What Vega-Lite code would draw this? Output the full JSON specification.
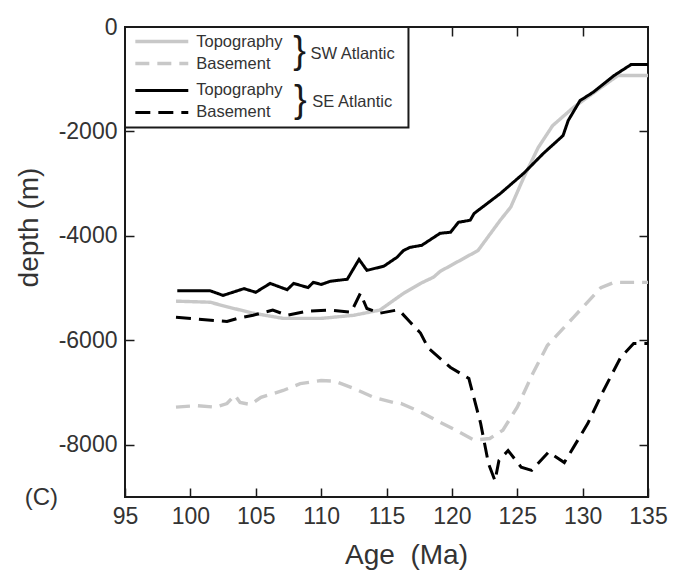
{
  "$schema": "https://vega.github.io/schema/vega-lite/v6.json",
  "width": 523,
  "height": 470,
  "autosize": {"type": "none"},
  "padding": {"left": 125, "top": 27, "right": 28, "bottom": 83},
  "background": "white",
  "config": {
    "view": {"stroke": "#1a1a1a", "strokeWidth": 2},
    "font": "Liberation Sans",
    "axis": {
      "domain": false,
      "grid": false,
      "tickColor": "#1a1a1a",
      "tickWidth": 1.5,
      "tickSize": 9,
      "offset": -9,
      "labelFont": "Liberation Sans",
      "labelFontSize": 23,
      "labelColor": "#333333",
      "labelFlush": false,
      "labelOverlap": false,
      "titleFont": "Liberation Sans",
      "titleFontSize": 28,
      "titleFontWeight": "normal",
      "titleColor": "#333333"
    }
  },
  "datasets": {
    "curves": [
      {"s": "SW Topography", "age": 98.9, "depth": -5250},
      {"s": "SW Topography", "age": 101.5, "depth": -5270},
      {"s": "SW Topography", "age": 103, "depth": -5370},
      {"s": "SW Topography", "age": 104.8, "depth": -5480},
      {"s": "SW Topography", "age": 107.1, "depth": -5580},
      {"s": "SW Topography", "age": 110, "depth": -5580},
      {"s": "SW Topography", "age": 112.5, "depth": -5520},
      {"s": "SW Topography", "age": 114.5, "depth": -5420},
      {"s": "SW Topography", "age": 116.3, "depth": -5100},
      {"s": "SW Topography", "age": 117.6, "depth": -4910},
      {"s": "SW Topography", "age": 118.6, "depth": -4790},
      {"s": "SW Topography", "age": 119.1, "depth": -4680},
      {"s": "SW Topography", "age": 122, "depth": -4280},
      {"s": "SW Topography", "age": 123.7, "depth": -3700},
      {"s": "SW Topography", "age": 124.5, "depth": -3450},
      {"s": "SW Topography", "age": 125.5, "depth": -2880},
      {"s": "SW Topography", "age": 126.6, "depth": -2310},
      {"s": "SW Topography", "age": 127.7, "depth": -1890},
      {"s": "SW Topography", "age": 129.3, "depth": -1540},
      {"s": "SW Topography", "age": 131.4, "depth": -1160},
      {"s": "SW Topography", "age": 132.7, "depth": -930},
      {"s": "SW Topography", "age": 135, "depth": -930},

      {"s": "SW Basement", "age": 98.9, "depth": -7280},
      {"s": "SW Basement", "age": 100.5, "depth": -7250},
      {"s": "SW Basement", "age": 101.9, "depth": -7280},
      {"s": "SW Basement", "age": 102.8, "depth": -7210},
      {"s": "SW Basement", "age": 103.4, "depth": -7050},
      {"s": "SW Basement", "age": 103.8, "depth": -7190},
      {"s": "SW Basement", "age": 104.6, "depth": -7230},
      {"s": "SW Basement", "age": 105.4, "depth": -7090},
      {"s": "SW Basement", "age": 107.1, "depth": -6960},
      {"s": "SW Basement", "age": 108.4, "depth": -6830},
      {"s": "SW Basement", "age": 110, "depth": -6770},
      {"s": "SW Basement", "age": 111, "depth": -6780},
      {"s": "SW Basement", "age": 112.5, "depth": -6920},
      {"s": "SW Basement", "age": 114, "depth": -7090},
      {"s": "SW Basement", "age": 115.5, "depth": -7190},
      {"s": "SW Basement", "age": 116.1, "depth": -7210},
      {"s": "SW Basement", "age": 117.6, "depth": -7370},
      {"s": "SW Basement", "age": 119.1, "depth": -7570},
      {"s": "SW Basement", "age": 120.6, "depth": -7760},
      {"s": "SW Basement", "age": 121.7, "depth": -7910},
      {"s": "SW Basement", "age": 122.9, "depth": -7880},
      {"s": "SW Basement", "age": 123.9, "depth": -7720},
      {"s": "SW Basement", "age": 125, "depth": -7280},
      {"s": "SW Basement", "age": 126.2, "depth": -6630},
      {"s": "SW Basement", "age": 127.3, "depth": -6100},
      {"s": "SW Basement", "age": 129.3, "depth": -5560},
      {"s": "SW Basement", "age": 131.4, "depth": -4990},
      {"s": "SW Basement", "age": 132.4, "depth": -4890},
      {"s": "SW Basement", "age": 135, "depth": -4890},

      {"s": "SE Topography", "age": 99, "depth": -5050},
      {"s": "SE Topography", "age": 101.5, "depth": -5050},
      {"s": "SE Topography", "age": 102.5, "depth": -5140},
      {"s": "SE Topography", "age": 104.1, "depth": -5010},
      {"s": "SE Topography", "age": 105, "depth": -5080},
      {"s": "SE Topography", "age": 106.1, "depth": -4910},
      {"s": "SE Topography", "age": 107.4, "depth": -5030},
      {"s": "SE Topography", "age": 107.9, "depth": -4910},
      {"s": "SE Topography", "age": 109, "depth": -4990},
      {"s": "SE Topography", "age": 109.4, "depth": -4890},
      {"s": "SE Topography", "age": 110, "depth": -4930},
      {"s": "SE Topography", "age": 110.7, "depth": -4870},
      {"s": "SE Topography", "age": 112, "depth": -4830},
      {"s": "SE Topography", "age": 112.9, "depth": -4450},
      {"s": "SE Topography", "age": 113.5, "depth": -4660},
      {"s": "SE Topography", "age": 114.8, "depth": -4580},
      {"s": "SE Topography", "age": 115.8, "depth": -4410},
      {"s": "SE Topography", "age": 116.3, "depth": -4280},
      {"s": "SE Topography", "age": 116.8, "depth": -4220},
      {"s": "SE Topography", "age": 117.7, "depth": -4180},
      {"s": "SE Topography", "age": 119.1, "depth": -3950},
      {"s": "SE Topography", "age": 119.9, "depth": -3930},
      {"s": "SE Topography", "age": 120.5, "depth": -3740},
      {"s": "SE Topography", "age": 121.4, "depth": -3700},
      {"s": "SE Topography", "age": 121.7, "depth": -3570},
      {"s": "SE Topography", "age": 122.7, "depth": -3380},
      {"s": "SE Topography", "age": 123.7, "depth": -3190},
      {"s": "SE Topography", "age": 125.5, "depth": -2800},
      {"s": "SE Topography", "age": 127, "depth": -2420},
      {"s": "SE Topography", "age": 128.5, "depth": -2080},
      {"s": "SE Topography", "age": 128.9, "depth": -1790},
      {"s": "SE Topography", "age": 129.8, "depth": -1410},
      {"s": "SE Topography", "age": 130.8, "depth": -1250},
      {"s": "SE Topography", "age": 132.4, "depth": -930},
      {"s": "SE Topography", "age": 133.7, "depth": -720},
      {"s": "SE Topography", "age": 135, "depth": -720},

      {"s": "SE Basement", "age": 98.9, "depth": -5560},
      {"s": "SE Basement", "age": 102.8, "depth": -5640},
      {"s": "SE Basement", "age": 103.6, "depth": -5580},
      {"s": "SE Basement", "age": 104.8, "depth": -5520},
      {"s": "SE Basement", "age": 106.3, "depth": -5420},
      {"s": "SE Basement", "age": 107.4, "depth": -5520},
      {"s": "SE Basement", "age": 109, "depth": -5440},
      {"s": "SE Basement", "age": 110.7, "depth": -5420},
      {"s": "SE Basement", "age": 112.3, "depth": -5460},
      {"s": "SE Basement", "age": 113, "depth": -5100},
      {"s": "SE Basement", "age": 113.5, "depth": -5390},
      {"s": "SE Basement", "age": 114.5, "depth": -5480},
      {"s": "SE Basement", "age": 115.8, "depth": -5420},
      {"s": "SE Basement", "age": 116.1, "depth": -5460},
      {"s": "SE Basement", "age": 116.8, "depth": -5650},
      {"s": "SE Basement", "age": 117.6, "depth": -5860},
      {"s": "SE Basement", "age": 118.2, "depth": -6150},
      {"s": "SE Basement", "age": 119.9, "depth": -6520},
      {"s": "SE Basement", "age": 121.3, "depth": -6730},
      {"s": "SE Basement", "age": 121.4, "depth": -6830},
      {"s": "SE Basement", "age": 122.2, "depth": -7590},
      {"s": "SE Basement", "age": 122.8, "depth": -8360},
      {"s": "SE Basement", "age": 123.3, "depth": -8690},
      {"s": "SE Basement", "age": 123.6, "depth": -8300},
      {"s": "SE Basement", "age": 124.3, "depth": -8110},
      {"s": "SE Basement", "age": 125.3, "depth": -8430},
      {"s": "SE Basement", "age": 126.1, "depth": -8490},
      {"s": "SE Basement", "age": 127.4, "depth": -8140},
      {"s": "SE Basement", "age": 128.6, "depth": -8340},
      {"s": "SE Basement", "age": 129.3, "depth": -8050},
      {"s": "SE Basement", "age": 130.4, "depth": -7590},
      {"s": "SE Basement", "age": 131.6, "depth": -6960},
      {"s": "SE Basement", "age": 132.9, "depth": -6330},
      {"s": "SE Basement", "age": 133.9, "depth": -6060},
      {"s": "SE Basement", "age": 135, "depth": -6060}
    ],
    "one": [{}]
  },
  "resolve": {"axis": {"x": "independent", "y": "independent"}},
  "layer": [
    {
      "data": {"name": "curves"},
      "transform": [{"filter": "indexof(datum.s, 'SW') == 0"}],
      "mark": {"type": "line", "strokeWidth": 3.4},
      "encoding": {
        "x": {"field": "age", "type": "quantitative", "scale": {"domain": [95, 135], "nice": false, "zero": false},
          "axis": {"orient": "bottom", "values": [95, 100, 105, 110, 115, 120, 125, 130, 135], "title": "Age\u00a0 (Ma)", "labelPadding": 8, "titleX": 281, "titleY": 67, "titleAlign": "center", "titleBaseline": "middle"}},
        "y": {"field": "depth", "type": "quantitative", "scale": {"domain": [-9000, 0], "nice": false, "zero": false},
          "axis": {"orient": "left", "values": [0, -2000, -4000, -6000, -8000], "title": "depth (m)", "labelPadding": 8, "labelExpr": "datum.value == 0 ? '0' : '-' + format(abs(datum.value), 'd')", "titleX": -105, "titleY": 200, "titleAngle": -90, "titleAlign": "center", "titleBaseline": "middle"}},
        "color": {"field": "s", "type": "nominal", "scale": {"domain": ["SW Topography", "SW Basement", "SE Topography", "SE Basement"], "range": ["#c8c8c8", "#c8c8c8", "#000000", "#000000"]}, "legend": null},
        "strokeDash": {"field": "s", "type": "nominal", "scale": {"domain": ["SW Topography", "SW Basement", "SE Topography", "SE Basement"], "range": [[1, 0], [14, 8], [1, 0], [15, 8]]}, "legend": null}
      }
    },
    {
      "data": {"name": "curves"},
      "transform": [{"filter": "indexof(datum.s, 'SE') == 0"}],
      "mark": {"type": "line", "strokeWidth": 3},
      "encoding": {
        "x": {"field": "age", "type": "quantitative", "axis": null},
        "y": {"field": "depth", "type": "quantitative", "axis": null},
        "color": {"field": "s", "type": "nominal", "legend": null},
        "strokeDash": {"field": "s", "type": "nominal", "legend": null}
      }
    },
    {
      "data": {"name": "curves"},
      "mark": {"type": "point", "opacity": 0},
      "encoding": {
        "x": {"field": "age", "type": "quantitative", "axis": {"orient": "top", "labels": false, "title": null, "values": [100, 105, 110, 115, 120, 125, 130]}},
        "y": {"field": "depth", "type": "quantitative", "axis": {"orient": "right", "labels": false, "title": null, "values": [-2000, -4000, -6000, -8000]}}
      }
    },
    {
      "data": {"name": "one"},
      "mark": {"type": "rect", "fill": "white", "stroke": "#1a1a1a", "strokeWidth": 2},
      "encoding": {
        "x": {"datum": 95, "type": "quantitative", "axis": null},
        "x2": {"datum": 116.68},
        "y": {"datum": 0, "type": "quantitative", "axis": null},
        "y2": {"datum": -1924}
      }
    },
    {
      "data": {"name": "one"},
      "mark": {"type": "rule", "color": "#c8c8c8", "strokeWidth": 3.4},
      "encoding": {"x": {"datum": 95.79, "type": "quantitative", "axis": null}, "x2": {"datum": 99.84}, "y": {"datum": -278, "type": "quantitative", "axis": null}}
    },
    {
      "data": {"name": "one"},
      "mark": {"type": "rule", "color": "#c8c8c8", "strokeWidth": 3.4, "strokeDash": [14, 8]},
      "encoding": {"x": {"datum": 95.79, "type": "quantitative", "axis": null}, "x2": {"datum": 99.84}, "y": {"datum": -699, "type": "quantitative", "axis": null}}
    },
    {
      "data": {"name": "one"},
      "mark": {"type": "rule", "color": "#000000", "strokeWidth": 3},
      "encoding": {"x": {"datum": 95.79, "type": "quantitative", "axis": null}, "x2": {"datum": 99.84}, "y": {"datum": -1215, "type": "quantitative", "axis": null}}
    },
    {
      "data": {"name": "one"},
      "mark": {"type": "rule", "color": "#000000", "strokeWidth": 3, "strokeDash": [15, 8]},
      "encoding": {"x": {"datum": 95.79, "type": "quantitative", "axis": null}, "x2": {"datum": 99.84}, "y": {"datum": -1636, "type": "quantitative", "axis": null}}
    },
    {
      "data": {"name": "one"},
      "mark": {"type": "text", "text": "Topography", "align": "left", "baseline": "middle", "fontSize": 16.5, "color": "#333333"},
      "encoding": {"x": {"datum": 100.45, "type": "quantitative", "axis": null}, "y": {"datum": -278, "type": "quantitative", "axis": null}}
    },
    {
      "data": {"name": "one"},
      "mark": {"type": "text", "text": "Basement", "align": "left", "baseline": "middle", "fontSize": 16.5, "color": "#333333"},
      "encoding": {"x": {"datum": 100.45, "type": "quantitative", "axis": null}, "y": {"datum": -699, "type": "quantitative", "axis": null}}
    },
    {
      "data": {"name": "one"},
      "mark": {"type": "text", "text": "Topography", "align": "left", "baseline": "middle", "fontSize": 16.5, "color": "#333333"},
      "encoding": {"x": {"datum": 100.45, "type": "quantitative", "axis": null}, "y": {"datum": -1215, "type": "quantitative", "axis": null}}
    },
    {
      "data": {"name": "one"},
      "mark": {"type": "text", "text": "Basement", "align": "left", "baseline": "middle", "fontSize": 16.5, "color": "#333333"},
      "encoding": {"x": {"datum": 100.45, "type": "quantitative", "axis": null}, "y": {"datum": -1636, "type": "quantitative", "axis": null}}
    },
    {
      "data": {"name": "one"},
      "mark": {"type": "text", "text": "}", "align": "center", "baseline": "middle", "fontSize": 38, "color": "#1a1a1a"},
      "encoding": {"x": {"datum": 108.36, "type": "quantitative", "axis": null}, "y": {"datum": -488, "type": "quantitative", "axis": null}}
    },
    {
      "data": {"name": "one"},
      "mark": {"type": "text", "text": "}", "align": "center", "baseline": "middle", "fontSize": 38, "color": "#1a1a1a"},
      "encoding": {"x": {"datum": 108.42, "type": "quantitative", "axis": null}, "y": {"datum": -1426, "type": "quantitative", "axis": null}}
    },
    {
      "data": {"name": "one"},
      "mark": {"type": "text", "text": "SW Atlantic", "align": "left", "baseline": "middle", "fontSize": 16.5, "color": "#333333"},
      "encoding": {"x": {"datum": 109.18, "type": "quantitative", "axis": null}, "y": {"datum": -517, "type": "quantitative", "axis": null}}
    },
    {
      "data": {"name": "one"},
      "mark": {"type": "text", "text": "SE Atlantic", "align": "left", "baseline": "middle", "fontSize": 16.5, "color": "#333333"},
      "encoding": {"x": {"datum": 109.33, "type": "quantitative", "axis": null}, "y": {"datum": -1435, "type": "quantitative", "axis": null}}
    },
    {
      "data": {"name": "one"},
      "mark": {"type": "text", "text": "(C)", "align": "center", "baseline": "middle", "fontSize": 24, "color": "#333333"},
      "encoding": {"x": {"datum": 88.6, "type": "quantitative", "axis": null}, "y": {"datum": -9025, "type": "quantitative", "axis": null}}
    }
  ]
}
